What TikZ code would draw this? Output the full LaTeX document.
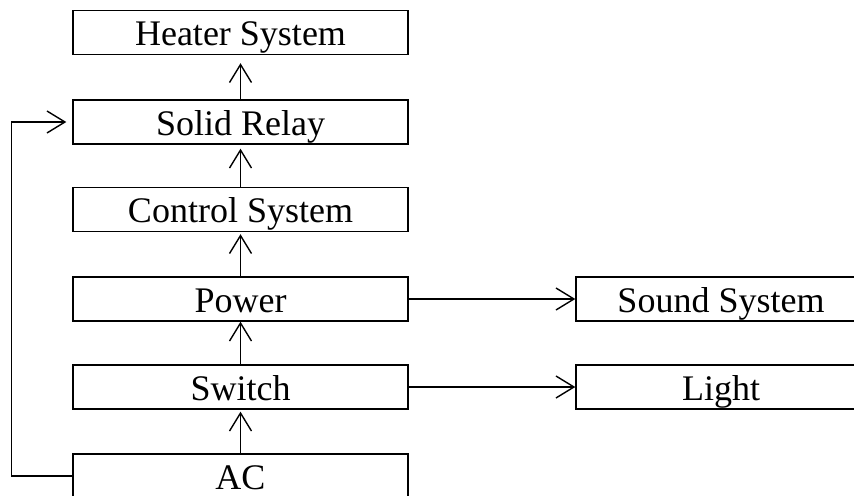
\documentclass[tikz,border=0pt]{standalone}
\usepackage{fontspec}
\setmainfont{Liberation Serif}
\usetikzlibrary{arrows.meta}
\begin{document}
\begin{tikzpicture}[x=.5pt,y=-.5pt,line width=.7pt,
  box/.style={draw,minimum width=167.5pt,minimum height=22pt,inner sep=0pt,
    text height=16pt,text depth=2.8pt,font=\fontsize{18pt}{20pt}\selectfont},
  sidebox/.style={box,minimum width=145pt},
  arr/.style={-{Straight Barb[length=9pt,width=11pt]}}]
\clip (0,0) rectangle (854,496);
\node[box] (heater) at (240.5,32.5) {Heater System};
\node[box] (relay) at (240.5,122) {Solid Relay};
\node[box] (control) at (240.5,209.5) {Control System};
\node[box] (power) at (240.5,299) {Power};
\node[box] (switch) at (240.5,387) {Switch};
\node[box] (ac) at (240.5,476) {AC};
\node[sidebox] (sound) at (721,299) {Sound System};
\node[sidebox] (light) at (721,387) {Light};

\draw[arr,shorten >=4pt] (relay) -- (heater);
\draw[arr,shorten >=2pt] (control) -- (relay);
\draw[arr,shorten >=1pt] (power) -- (control);
\draw[arr] (switch) -- (power);
\draw[arr,shorten >=1pt] (ac) -- (switch);
\draw[arr] (power) -- (sound);
\draw[arr] (switch) -- (light);
\draw[arr,shorten >=3pt] (ac.west) -- ++(-61,0) |- (relay.west);
\end{tikzpicture}
\end{document}
